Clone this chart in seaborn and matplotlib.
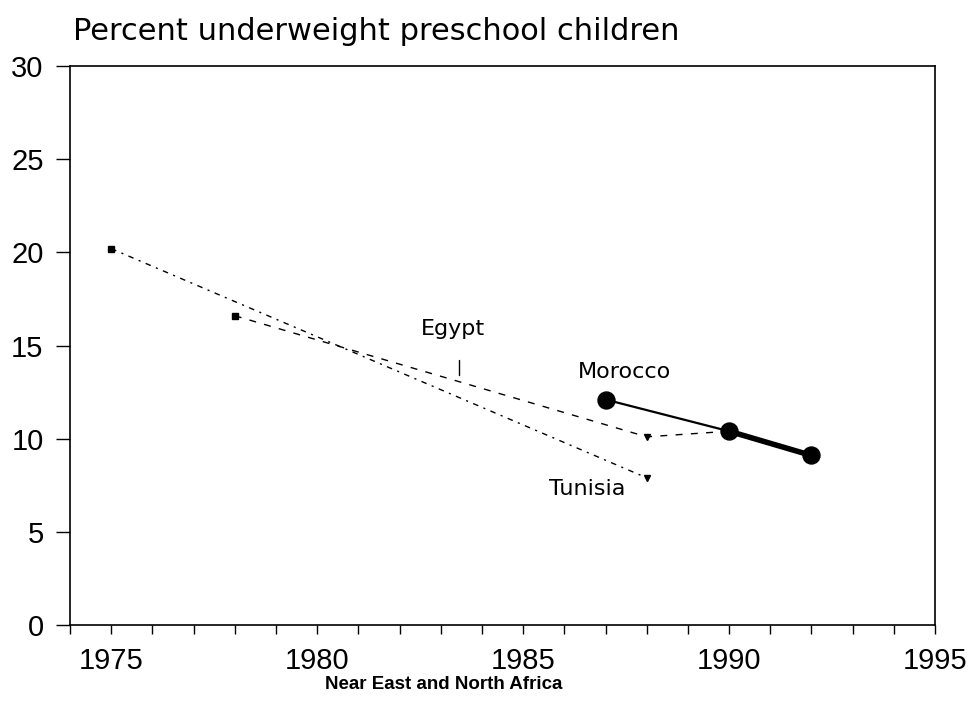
import matplotlib
matplotlib.use("Agg")
import matplotlib.pyplot as plt
import seaborn as sns
import pandas as pd

# values
tunisia_years = [1975, 1988]
tunisia_vals = [20.2, 7.9]
egypt_years = [1978, 1988, 1990]
egypt_vals = [16.6, 10.1, 10.4]
morocco_years = [1987, 1990, 1992]
morocco_vals = [12.1, 10.4, 9.1]

year_ticks = list(range(1974, 1996))
year_labels = [str(y) if y % 5 == 0 else "" for y in year_ticks]
pct_ticks = [0, 5, 10, 15, 20, 25, 30]

sns.set_style("ticks")
plt.rcParams["font.family"] = ["Liberation Sans", "DejaVu Sans"]
plt.rcParams["text.color"] = "black"
plt.rcParams["axes.edgecolor"] = "black"
plt.rcParams["xtick.color"] = "black"
plt.rcParams["ytick.color"] = "black"

tun = pd.DataFrame({"year": tunisia_years, "pct": tunisia_vals})
egy = pd.DataFrame({"year": egypt_years, "pct": egypt_vals})
mor = pd.DataFrame({"year": morocco_years, "pct": morocco_vals})

fig = plt.figure(figsize=(9.72, 7.06), dpi=100)
ax = fig.add_axes([0.072, 0.1147, 0.890, 0.7918])

sns.lineplot(data=tun, x="year", y="pct", ax=ax, color="black", lw=1.0,
             linestyle=(0, (4, 4, 1.5, 4)))
sns.lineplot(data=egy, x="year", y="pct", ax=ax, color="black", lw=1.0,
             linestyle=(0, (5, 6)))
ax.plot(tun.year.iloc[:1], tun.pct.iloc[:1], "s", ms=4, color="black")
ax.plot(egy.year.iloc[:1], egy.pct.iloc[:1], "s", ms=4, color="black")
ax.plot(tun.year.iloc[1:2], tun.pct.iloc[1:2], "v", ms=5, color="black")
ax.plot(egy.year.iloc[1:2], egy.pct.iloc[1:2], "v", ms=5, color="black")

# Morocco: thin first segment, heavy second one
sns.lineplot(data=mor.iloc[:2], x="year", y="pct", ax=ax, color="black", lw=1.6)
sns.lineplot(data=mor.iloc[1:], x="year", y="pct", ax=ax, color="black", lw=4)
sns.scatterplot(data=mor, x="year", y="pct", ax=ax, color="black", s=150,
                edgecolor="black", zorder=5)

lab_font = dict(fontsize=16, family=["DejaVu Sans"], ha="center", va="center")
ax.text(1983.3, 15.9, "Egypt", **lab_font)
ax.plot([1983.44, 1983.44], [13.4, 14.2], color="black", lw=1)
ax.text(1987.45, 13.6, "Morocco", **lab_font)
ax.text(1986.55, 7.3, "Tunisia", **lab_font)

ax.set_xlim(1974, 1995)
ax.set_ylim(0, 30)
ax.set_xticks(year_ticks)
ax.set_xticklabels(year_labels)
ax.set_yticks(pct_ticks)
ax.tick_params(axis="x", length=6.5, width=1, pad=9, labelsize=21)
ax.tick_params(axis="y", length=10, width=1, pad=9, labelsize=21)
for s in ax.spines.values():
    s.set_linewidth(1.2)
ax.set_xlabel("")
ax.set_ylabel("")

fig.text(0.075, 0.955, "Percent underweight preschool children", fontsize=22,
         ha="left", va="center", family=["DejaVu Sans"])
fig.text(0.456, 0.03, "Near East and North Africa", fontsize=13.5,
         fontweight="bold", ha="center", va="center")

fig.savefig("out.png", dpi=100)
